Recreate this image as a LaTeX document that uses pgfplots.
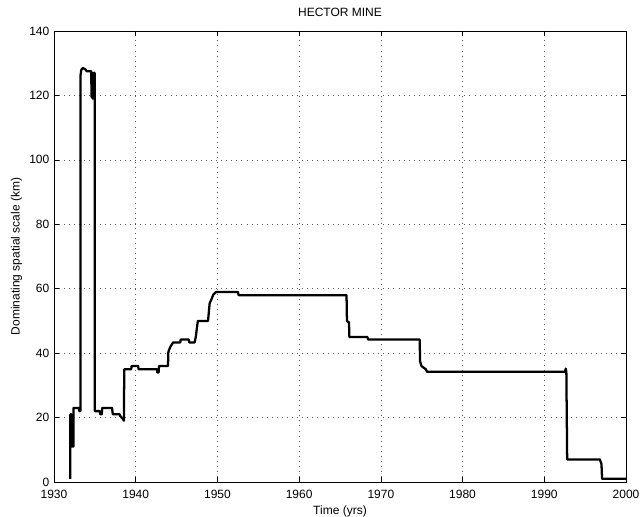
\documentclass[border=0pt]{standalone}
\usepackage{fontspec}
\setmainfont{Liberation Sans}
\usepackage{pgfplots}
\pgfplotsset{compat=1.18}
\begin{document}
\begin{tikzpicture}
\begin{axis}[
  name=ax,
  scale only axis,
  width=429pt, height=338.25pt,
  xmin=1930, xmax=2000, ymin=0, ymax=140,
  xtick={1930,1940,...,2000},
  ytick={0,20,...,140},
  /pgf/number format/assume math mode=true,
  xticklabel style={/pgf/number format/1000 sep={}, yshift=-2.5pt},
  tick align=inside,
  xtick pos=both, ytick pos=both,
  major tick length=4pt,
  tick style={black, line width=0.5pt},
  grid=major,
  major grid style={black!65, line width=0.5pt, dash pattern=on 0.6pt off 3.2pt},
  axis line style={line width=0.6pt},
  every tick label/.append style={font=\fontsize{9}{10}\selectfont},
  label style={font=\fontsize{9}{10}\selectfont},
  title style={font=\fontsize{9}{10}\selectfont, yshift=1pt},
  ylabel style={xshift=0pt, yshift=-1.5pt},
  xlabel style={yshift=1.5pt},
  title={HECTOR MINE},
  xlabel={Time (yrs)},
  ylabel={Dominating spatial scale (km)},
]
\addplot[black, line width=1.7pt, line join=round] coordinates {
(1932.0,1) (1932.0,21) (1932.12,21) (1932.12,11) (1932.38,11) (1932.38,23)
(1933.05,23) (1933.1,22) (1933.23,22) (1933.23,126) (1933.35,128)
(1933.55,128.5) (1933.88,128) (1934.0,127.5) (1934.55,127.5)
(1934.6,119.5) (1934.65,127) (1934.72,119) (1934.78,127) (1934.85,119)
(1934.92,127) (1934.98,127) (1935.0,22) (1935.6,22) (1935.65,21)
(1935.85,21) (1935.9,23) (1937.1,23) (1937.2,21) (1938.05,21)
(1938.1,20.5) (1938.45,19.5) (1938.55,19) (1938.6,35) (1939.45,35)
(1939.5,36) (1940.3,36) (1940.35,35) (1942.6,35) (1942.65,34)
(1942.8,34) (1942.85,36) (1943.95,36) (1944.0,40.5) (1944.25,42)
(1944.57,43.3) (1945.45,43.3) (1945.5,44.2) (1946.5,44.2) (1946.55,43.3)
(1947.2,43.3) (1947.35,45) (1947.6,50) (1948.85,50) (1949.05,55.5)
(1949.25,56.6) (1949.5,58.2) (1949.85,59) (1952.5,59) (1952.6,58)
(1965.8,58) (1965.85,50) (1966.1,49.5) (1966.15,45) (1968.35,45)
(1968.45,44.2) (1974.75,44.2) (1974.8,37.5) (1974.97,36) (1975.5,35)
(1975.65,34.2) (1992.55,34.2) (1992.62,35.2) (1992.7,34.2) (1992.8,7)
(1996.8,7) (1997.0,5.5) (1997.07,1) (2000,1)
};
\end{axis}
% fixed margins around the axis box
\pgfresetboundingbox
\path (ax.south west) ++(-40.5pt,-25.5pt) coordinate (bl);
\path (ax.north east) ++(13.5pt,23.25pt) coordinate (tr);
\path (bl) rectangle (tr);
\end{tikzpicture}
\end{document}
